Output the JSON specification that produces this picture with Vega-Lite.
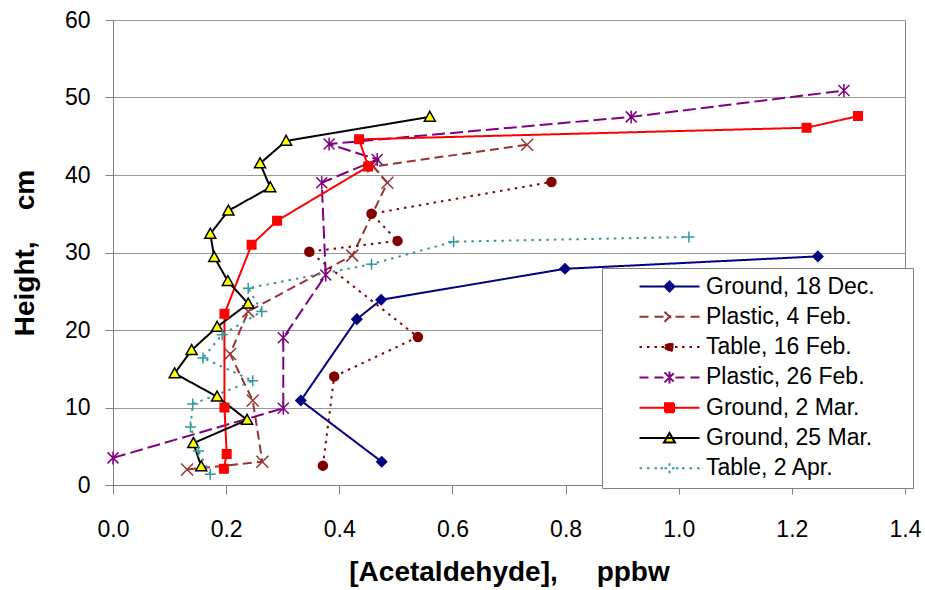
{
  "$schema": "https://vega.github.io/schema/vega-lite/v6.json",
  "width": 792,
  "height": 465,
  "autosize": {"type": "none"},
  "padding": {"left": 113, "top": 20, "right": 20, "bottom": 105},
  "background": "white",
  "config": {
    "font": "Liberation Sans",
    "view": {"stroke": "#808080", "strokeWidth": 1},
    "axis": {
      "labelFont": "Liberation Sans",
      "labelFontSize": 23,
      "labelColor": "#000000",
      "titleFont": "Liberation Sans",
      "titleFontWeight": "bold",
      "titleColor": "#000000",
      "domainColor": "#808080",
      "tickColor": "#808080",
      "gridColor": "#999999",
      "gridWidth": 1
    }
  },
  "data": {
    "values": [
      {"series": "Ground, 18 Dec.", "order": 1, "x": 0.475, "y": 3.0},
      {"series": "Ground, 18 Dec.", "order": 2, "x": 0.332, "y": 10.9},
      {"series": "Ground, 18 Dec.", "order": 3, "x": 0.431, "y": 21.4},
      {"series": "Ground, 18 Dec.", "order": 4, "x": 0.474, "y": 23.9},
      {"series": "Ground, 18 Dec.", "order": 5, "x": 0.799, "y": 27.9},
      {"series": "Ground, 18 Dec.", "order": 6, "x": 1.246, "y": 29.5},

      {"series": "Plastic, 4 Feb.", "order": 1, "x": 0.131, "y": 2.0},
      {"series": "Plastic, 4 Feb.", "order": 2, "x": 0.264, "y": 3.0},
      {"series": "Plastic, 4 Feb.", "order": 3, "x": 0.247, "y": 10.9},
      {"series": "Plastic, 4 Feb.", "order": 4, "x": 0.207, "y": 16.9},
      {"series": "Plastic, 4 Feb.", "order": 5, "x": 0.239, "y": 22.4},
      {"series": "Plastic, 4 Feb.", "order": 6, "x": 0.423, "y": 29.6},
      {"series": "Plastic, 4 Feb.", "order": 7, "x": 0.485, "y": 39.0},
      {"series": "Plastic, 4 Feb.", "order": 8, "x": 0.46, "y": 41.1},
      {"series": "Plastic, 4 Feb.", "order": 9, "x": 0.732, "y": 43.9},

      {"series": "Table, 16 Feb.", "order": 1, "x": 0.371, "y": 2.5},
      {"series": "Table, 16 Feb.", "order": 2, "x": 0.391, "y": 14.0},
      {"series": "Table, 16 Feb.", "order": 3, "x": 0.539, "y": 19.1},
      {"series": "Table, 16 Feb.", "order": 4, "x": 0.347, "y": 30.1},
      {"series": "Table, 16 Feb.", "order": 5, "x": 0.503, "y": 31.5},
      {"series": "Table, 16 Feb.", "order": 6, "x": 0.457, "y": 35.0},
      {"series": "Table, 16 Feb.", "order": 7, "x": 0.775, "y": 39.1},

      {"series": "Plastic, 26 Feb.", "order": 1, "x": 0.0, "y": 3.5},
      {"series": "Plastic, 26 Feb.", "order": 2, "x": 0.301, "y": 9.9},
      {"series": "Plastic, 26 Feb.", "order": 3, "x": 0.301, "y": 19.0},
      {"series": "Plastic, 26 Feb.", "order": 4, "x": 0.376, "y": 27.1},
      {"series": "Plastic, 26 Feb.", "order": 5, "x": 0.369, "y": 39.0},
      {"series": "Plastic, 26 Feb.", "order": 6, "x": 0.467, "y": 42.0},
      {"series": "Plastic, 26 Feb.", "order": 7, "x": 0.382, "y": 44.0},
      {"series": "Plastic, 26 Feb.", "order": 8, "x": 0.916, "y": 47.5},
      {"series": "Plastic, 26 Feb.", "order": 9, "x": 1.292, "y": 50.9},

      {"series": "Ground, 2 Mar.", "order": 1, "x": 0.196, "y": 2.1},
      {"series": "Ground, 2 Mar.", "order": 2, "x": 0.201, "y": 4.0},
      {"series": "Ground, 2 Mar.", "order": 3, "x": 0.197, "y": 10.0},
      {"series": "Ground, 2 Mar.", "order": 4, "x": 0.197, "y": 22.1},
      {"series": "Ground, 2 Mar.", "order": 5, "x": 0.245, "y": 31.0},
      {"series": "Ground, 2 Mar.", "order": 6, "x": 0.29, "y": 34.1},
      {"series": "Ground, 2 Mar.", "order": 7, "x": 0.451, "y": 41.1},
      {"series": "Ground, 2 Mar.", "order": 8, "x": 0.435, "y": 44.6},
      {"series": "Ground, 2 Mar.", "order": 9, "x": 1.226, "y": 46.1},
      {"series": "Ground, 2 Mar.", "order": 10, "x": 1.317, "y": 47.6},

      {"series": "Ground, 25 Mar.", "order": 1, "x": 0.156, "y": 2.4},
      {"series": "Ground, 25 Mar.", "order": 2, "x": 0.142, "y": 5.4},
      {"series": "Ground, 25 Mar.", "order": 3, "x": 0.237, "y": 8.4},
      {"series": "Ground, 25 Mar.", "order": 4, "x": 0.184, "y": 11.4},
      {"series": "Ground, 25 Mar.", "order": 5, "x": 0.109, "y": 14.4},
      {"series": "Ground, 25 Mar.", "order": 6, "x": 0.139, "y": 17.4},
      {"series": "Ground, 25 Mar.", "order": 7, "x": 0.184, "y": 20.4},
      {"series": "Ground, 25 Mar.", "order": 8, "x": 0.239, "y": 23.4},
      {"series": "Ground, 25 Mar.", "order": 9, "x": 0.203, "y": 26.3},
      {"series": "Ground, 25 Mar.", "order": 10, "x": 0.179, "y": 29.4},
      {"series": "Ground, 25 Mar.", "order": 11, "x": 0.172, "y": 32.4},
      {"series": "Ground, 25 Mar.", "order": 12, "x": 0.204, "y": 35.4},
      {"series": "Ground, 25 Mar.", "order": 13, "x": 0.278, "y": 38.4},
      {"series": "Ground, 25 Mar.", "order": 14, "x": 0.26, "y": 41.5},
      {"series": "Ground, 25 Mar.", "order": 15, "x": 0.306, "y": 44.4},
      {"series": "Ground, 25 Mar.", "order": 16, "x": 0.56, "y": 47.5},

      {"series": "Table, 2 Apr.", "order": 1, "x": 0.172, "y": 1.4},
      {"series": "Table, 2 Apr.", "order": 2, "x": 0.151, "y": 4.4},
      {"series": "Table, 2 Apr.", "order": 3, "x": 0.137, "y": 7.5},
      {"series": "Table, 2 Apr.", "order": 4, "x": 0.141, "y": 10.45},
      {"series": "Table, 2 Apr.", "order": 5, "x": 0.247, "y": 13.45},
      {"series": "Table, 2 Apr.", "order": 6, "x": 0.159, "y": 16.4},
      {"series": "Table, 2 Apr.", "order": 7, "x": 0.193, "y": 19.4},
      {"series": "Table, 2 Apr.", "order": 8, "x": 0.263, "y": 22.4},
      {"series": "Table, 2 Apr.", "order": 9, "x": 0.239, "y": 25.4},
      {"series": "Table, 2 Apr.", "order": 10, "x": 0.457, "y": 28.5},
      {"series": "Table, 2 Apr.", "order": 11, "x": 0.602, "y": 31.4},
      {"series": "Table, 2 Apr.", "order": 12, "x": 1.018, "y": 32.0}
    ]
  },
  "encoding": {
    "x": {
      "field": "x",
      "type": "quantitative",
      "scale": {"domain": [0, 1.4], "nice": false, "zero": false},
      "axis": {
        "title": "[Acetaldehyde],\u00a0\u00a0\u00a0\u00a0\u00a0ppbw",
        "titleFontSize": 28,
        "titlePadding": 17,
        "values": [0, 0.2, 0.4, 0.6, 0.8, 1.0, 1.2, 1.4],
        "format": ".1f",
        "grid": false,
        "tickSize": 9,
        "labelPadding": 24,
        "labelFlush": false
      }
    },
    "y": {
      "field": "y",
      "type": "quantitative",
      "scale": {"domain": [0, 60], "nice": false},
      "axis": {
        "title": "Height,\u00a0\u00a0\u00a0\u00a0cm",
        "titleFontSize": 28,
        "titlePadding": 25,
        "values": [0, 10, 20, 30, 40, 50, 60],
        "grid": true,
        "tickSize": 8,
        "labelPadding": 15,
        "labelFlush": false
      }
    }
  },
  "layer": [
    {
      "mark": {"type": "line", "strokeWidth": 2},
      "encoding": {
        "order": {"field": "order", "type": "quantitative"},
        "stroke": {
          "field": "series",
          "type": "nominal",
          "scale": {
            "domain": ["Ground, 18 Dec.", "Plastic, 4 Feb.", "Table, 16 Feb.", "Plastic, 26 Feb.", "Ground, 2 Mar.", "Ground, 25 Mar.", "Table, 2 Apr."],
            "range": ["#000080", "#993333", "#800000", "#800080", "#ff0000", "#000000", "#339999"]
          },
          "legend": {
            "orient": "none",
            "legendX": 489,
            "legendY": 248,
            "title": null,
            "labelFont": "Liberation Sans",
            "labelFontSize": 23,
            "labelColor": "#000000",
            "labelLimit": 400,
            "symbolSize": 400,
            "symbolStrokeWidth": 2,
            "fillColor": "#ffffff",
            "strokeColor": "#808080",
            "padding": 7,
            "rowPadding": 6.3,
            "labelOffset": 25,
            "symbolOffset": 49,
            "encode": {
              "symbols": {
                "update": {
                  "shape": {"signal": "['M-3,0H3M0,-0.5L0.5,0L0,0.5L-0.5,0ZM23.2,0','M-3,0H-2.1M-1.5,0H-0.6M0.6,0H1.5M2.1,0H3M-0.5,-0.5L0.5,0.5M-0.5,0.5L0.5,-0.5','M-3,0H-2.75M-2.25,0H-2M-1.5,0H-1.25M-0.8,0H-0.55M0.55,0H0.8M1.25,0H1.5M2,0H2.25M2.75,0H3M-0.42,0A0.42,0.42,0,1,0,0.42,0A0.42,0.42,0,1,0,-0.42,0Z','M-3,0H-2.1M-1.5,0H-0.6M0.6,0H1.5M2.1,0H3M-0.5,-0.5L0.5,0.5M-0.5,0.5L0.5,-0.5M0,-0.6V0.6','M-3,0H3M-0.45,-0.45H0.45V0.45H-0.45Z','M-3,0H3M0,-0.5L0.55,0.45H-0.55Z','M-3,0H-2.75M-2.25,0H-2M-1.5,0H-1.25M-0.9,0H-0.65M0.65,0H0.9M1.25,0H1.5M2,0H2.25M2.75,0H3M-0.5,0H0.5M0,-0.5V0.5'][indexof(['Ground, 18 Dec.','Plastic, 4 Feb.','Table, 16 Feb.','Plastic, 26 Feb.','Ground, 2 Mar.','Ground, 25 Mar.','Table, 2 Apr.'], datum.value)]"},
                  "fill": {"signal": "datum.value === 'Ground, 25 Mar.' ? '#ffff00' : scale('stroke', datum.value)"},
                  "size": {"value": 400},
                  "opacity": {"value": 1},
                  "strokeWidth": {"value": 2},
                  "strokeDash": {"value": [1, 0]}
                }
              }
            }
          }
        },
        "strokeDash": {
          "field": "series",
          "type": "nominal",
          "scale": {
            "domain": ["Ground, 18 Dec.", "Plastic, 4 Feb.", "Table, 16 Feb.", "Plastic, 26 Feb.", "Ground, 2 Mar.", "Ground, 25 Mar.", "Table, 2 Apr."],
            "range": [[1, 0], [9, 5], [2.5, 5], [13, 5], [1, 0], [1, 0], [2.5, 5]]
          },
          "legend": null
        }
      }
    },
    {
      "transform": [{"filter": "datum.series === 'Ground, 18 Dec.'"}],
      "mark": {"type": "point", "shape": "M0,-1L1,0L0,1L-1,0Z", "filled": true, "fill": "#000080", "stroke": "#000080", "size": 100, "strokeWidth": 1.5, "opacity": 1}
    },
    {
      "transform": [{"filter": "datum.series === 'Plastic, 4 Feb.'"}],
      "mark": {"type": "point", "shape": "M-1.2,-1.2L1.2,1.2M-1.2,1.2L1.2,-1.2", "filled": false, "fill": "transparent", "stroke": "#993333", "size": 100, "strokeWidth": 1.5, "opacity": 1}
    },
    {
      "transform": [{"filter": "datum.series === 'Table, 16 Feb.'"}],
      "mark": {"type": "point", "shape": "M-0.9,0A0.9,0.9,0,1,0,0.9,0A0.9,0.9,0,1,0,-0.9,0Z", "filled": true, "fill": "#800000", "stroke": "#800000", "size": 100, "strokeWidth": 1.5, "opacity": 1}
    },
    {
      "transform": [{"filter": "datum.series === 'Plastic, 26 Feb.'"}],
      "mark": {"type": "point", "shape": "M-1.1,-1.1L1.1,1.1M-1.1,1.1L1.1,-1.1M0,-1.3V1.3", "filled": false, "fill": "transparent", "stroke": "#800080", "size": 100, "strokeWidth": 1.5, "opacity": 1}
    },
    {
      "transform": [{"filter": "datum.series === 'Ground, 2 Mar.'"}],
      "mark": {"type": "point", "shape": "M-0.85,-0.85H0.85V0.85H-0.85Z", "filled": true, "fill": "#ff0000", "stroke": "#ff0000", "size": 100, "strokeWidth": 1.5, "opacity": 1}
    },
    {
      "transform": [{"filter": "datum.series === 'Ground, 25 Mar.'"}],
      "mark": {"type": "point", "shape": "M0,-1.1L1.1,0.85H-1.1Z", "filled": true, "fill": "#ffff00", "stroke": "#000000", "size": 100, "strokeWidth": 1.5, "opacity": 1}
    },
    {
      "transform": [{"filter": "datum.series === 'Table, 2 Apr.'"}],
      "mark": {"type": "point", "shape": "M-1.1,0H1.1M0,-1.1V1.1", "filled": false, "fill": "transparent", "stroke": "#339999", "size": 100, "strokeWidth": 1.5, "opacity": 1}
    }
  ]
}
